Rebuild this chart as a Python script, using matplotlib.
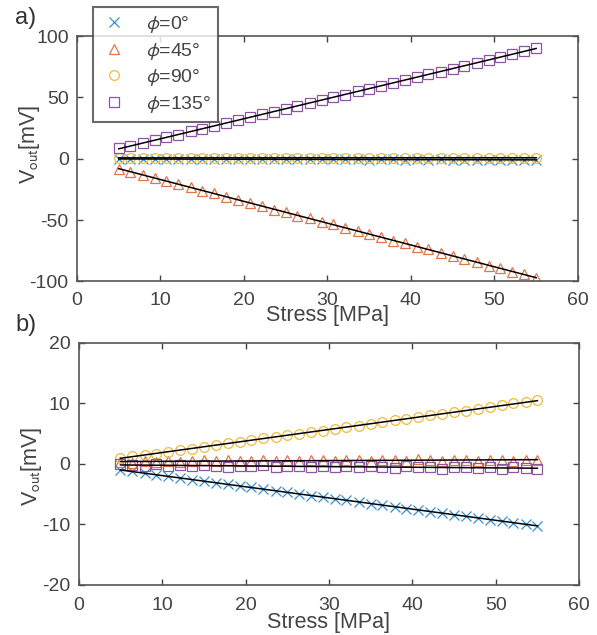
import numpy as np
import matplotlib
matplotlib.use("Agg")
import matplotlib.pyplot as plt

plt.rcParams['font.family'] = ['Liberation Sans', 'DejaVu Sans']
plt.rcParams['mathtext.fontset'] = 'stixsans'
plt.rcParams['axes.unicode_minus'] = False

# stress values (MPa)
stress = [5.0, 6.4, 7.9, 9.3, 10.7, 12.1, 13.6, 15.0, 16.4, 17.9, 19.3, 20.7,
          22.1, 23.6, 25.0, 26.4, 27.9, 29.3, 30.7, 32.1, 33.6, 35.0, 36.4, 37.9,
          39.3, 40.7, 42.1, 43.6, 45.0, 46.4, 47.9, 49.3, 50.7, 52.1, 53.6, 55.0]

labels = [r'$\phi$=0°', r'$\phi$=45°', r'$\phi$=90°', r'$\phi$=135°']

# panel a) Vout in mV
a_phi0 = [-0.5, -0.2, -0.4, -0.1, -0.3, -0.2, -0.5, -0.3, -0.2, -0.4, -0.3, -0.5,
          -0.2, -0.4, -0.6, -0.3, -0.5, -0.4, -0.6, -0.5, -0.3, -0.7, -0.5, -0.6,
          -0.8, -0.5, -0.7, -0.6, -0.9, -0.7, -0.8, -1.0, -0.8, -0.9, -1.1, -1.2]
a_phi45 = [-8.0, -10.8, -13.0, -15.9, -18.0, -20.9, -23.2, -26.1, -28.0, -31.2,
           -33.3, -36.2, -38.3, -41.5, -43.5, -46.4, -48.6, -51.5, -53.6, -56.6,
           -58.8, -61.8, -63.8, -66.9, -68.9, -71.9, -73.9, -77.0, -79.0, -82.1,
           -84.1, -87.2, -89.2, -92.2, -94.2, -97.0]
a_phi90 = [0.6, 0.8, 0.5, 0.9, 0.7, 0.6, 0.9, 0.8, 0.6, 0.9, 0.7, 0.8,
           0.6, 0.9, 0.7, 0.8, 0.6, 0.9, 0.7, 0.8, 0.9, 0.6, 0.8, 0.7,
           0.9, 0.6, 0.8, 0.7, 0.9, 0.6, 0.8, 0.7, 0.9, 0.7, 0.8, 0.9]
a_phi135 = [8.5, 10.5, 12.8, 15.0, 17.5, 19.6, 22.3, 24.4, 26.9, 29.1, 31.6, 33.7,
            36.2, 38.5, 40.9, 43.0, 45.6, 47.8, 50.2, 52.4, 54.9, 57.1, 59.5, 61.8,
            64.2, 66.4, 68.9, 71.1, 73.6, 75.8, 78.3, 80.5, 83.0, 85.3, 87.8, 90.5]

# panel b) Vout in mV
b_phi0 = [-1.0, -1.2, -1.5, -1.8, -2.0, -2.4, -2.6, -2.9, -3.1, -3.4, -3.7, -3.9,
          -4.2, -4.5, -4.7, -4.9, -5.3, -5.5, -5.8, -6.0, -6.3, -6.6, -6.8, -7.1,
          -7.4, -7.6, -7.9, -8.2, -8.4, -8.7, -8.9, -9.2, -9.5, -9.7, -9.9, -10.2]
b_phi45 = [0.3, 0.2, 0.4, 0.3, 0.5, 0.3, 0.4, 0.6, 0.4, 0.6, 0.5, 0.4,
           0.6, 0.5, 0.7, 0.5, 0.6, 0.7, 0.5, 0.7, 0.6, 0.5, 0.7, 0.6,
           0.5, 0.8, 0.6, 0.5, 0.7, 0.6, 0.5, 0.7, 0.6, 0.5, 0.7, 0.7]
b_phi90 = [1.0, 1.3, 1.5, 1.7, 2.0, 2.3, 2.5, 2.8, 3.1, 3.4, 3.6, 3.9,
           4.2, 4.5, 4.7, 5.0, 5.3, 5.5, 5.8, 6.1, 6.3, 6.6, 6.9, 7.2,
           7.4, 7.7, 8.0, 8.2, 8.5, 8.8, 9.1, 9.4, 9.7, 10.0, 10.2, 10.5]
b_phi135 = [-0.1, -0.2, -0.3, -0.1, -0.3, -0.2, -0.4, -0.2, -0.3, -0.5, -0.3, -0.4,
            -0.2, -0.5, -0.3, -0.4, -0.6, -0.3, -0.5, -0.4, -0.6, -0.4, -0.5, -0.7,
            -0.4, -0.6, -0.5, -0.8, -0.6, -0.5, -0.7, -0.6, -0.8, -0.5, -0.7, -0.8]

colors = ['#3a8fd0', '#e2744a', '#efbb3a', '#8e55a0']
markers = ['x', '^', 'o', 's']

fig = plt.figure(figsize=(5.97, 6.35), dpi=100)
ax_a = fig.add_axes([0.129, 0.557, 0.839, 0.386])
ax_b = fig.add_axes([0.132, 0.079, 0.838, 0.381])

gray = '#444444'


def style(ax, ylim, yticks, xlab_y, ylab_y, xpad):
    ax.set_xlim(0, 60)
    ax.set_ylim(*ylim)
    ax.set_xticks(range(0, 61, 10))
    ax.set_yticks(yticks)
    ax.tick_params(direction='in', top=True, right=True, labelsize=14,
                   colors=gray, length=4, width=1.0)
    ax.tick_params(axis='y', pad=6)
    ax.tick_params(axis='x', pad=xpad)
    for s in ax.spines.values():
        s.set_color('#555555')
        s.set_linewidth(1.2)
    ax.set_xlabel('Stress [MPa]', fontsize=15.5, color=gray)
    ax.xaxis.set_label_coords(0.5, xlab_y)
    ax.set_ylabel(r'V$_{\mathrm{out}}$[mV]', fontsize=15.5, color=gray)
    ax.yaxis.set_label_coords(-0.07, ylab_y)


def draw(ax, series):
    x = np.array(stress)
    handles = []
    for y, c, m, lab in zip(series, colors, markers, labels):
        h, = ax.plot(x, y, linestyle='none', marker=m, markersize=7,
                     markerfacecolor='none', markeredgecolor=c,
                     markeredgewidth=0.9, label=lab)
        handles.append(h)
    for y in series:
        p = np.polyfit(x, y, 1)
        ax.plot(x[[0, -1]], np.polyval(p, x[[0, -1]]), color='black', lw=1.1)
    return handles


hs = draw(ax_a, [a_phi0, a_phi45, a_phi90, a_phi135])
style(ax_a, (-100, 100), [-100, -50, 0, 50, 100], -0.098, 0.557, 8)
draw(ax_b, [b_phi0, b_phi45, b_phi90, b_phi135])
style(ax_b, (-20, 20), [-20, -10, 0, 10, 20], -0.112, 0.49, 9)

leg = fig.legend(handles=hs, loc='upper left',
                 bbox_to_anchor=(93 / 597, 1 - 7 / 635),
                 bbox_transform=fig.transFigure, borderaxespad=0,
                 fontsize=14, frameon=True, fancybox=False,
                 handlelength=1.5, handletextpad=0.9, labelspacing=0.28,
                 borderpad=0.35)
leg.get_frame().set_edgecolor('#444444')
leg.get_frame().set_linewidth(1.5)
for t in leg.get_texts():
    t.set_color(gray)

fig.text(15 / 597, 1 - 18 / 635, 'a)', fontsize=17, color='#333333',
         va='center', ha='left')
fig.text(15 / 597, 1 - 325 / 635, 'b)', fontsize=17, color='#333333',
         va='center', ha='left')

fig.savefig('out.png', dpi=100)
